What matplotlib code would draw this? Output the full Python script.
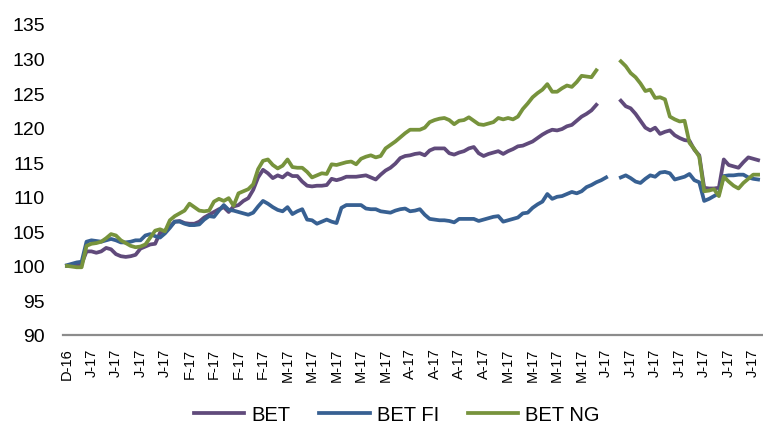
import numpy as np
import matplotlib.pyplot as plt

plt.rcParams['font.family'] = ['Liberation Sans', 'DejaVu Sans']

# --- Dades (valors diaris llegits del gràfic, NaN = buit) ---
bet = [100.0, 100.1, 100.2, 100.3, 102.1, 102.1, 101.9, 102.1, 102.6, 102.4,
       101.7, 101.4, 101.3, 101.4, 101.6, 102.5, 102.8, 103.1, 103.2, 104.8,
       105.1, 105.7, 106.4, 106.5, 106.2, 106.1, 106.1, 106.4, 107.0, 107.4,
       107.8, 108.2, 108.5, 107.8, 108.6, 108.8, 109.4, 109.8, 111.0, 112.8,
       113.9, 113.4, 112.7, 113.1, 112.8, 113.4, 113.0, 113.0, 112.2, 111.6,
       111.5, 111.6, 111.6, 111.7, 112.6, 112.4, 112.6, 112.9, 112.9, 112.9,
       113.0, 113.1, 112.8, 112.5, 113.2, 113.8, 114.2, 114.8, 115.6, 115.9,
       116.0, 116.2, 116.3, 116.0, 116.7, 117.0, 117.0, 117.0, 116.3, 116.1,
       116.4, 116.6, 117.0, 117.2, 116.3, 115.9, 116.2, 116.4, 116.6, 116.2,
       116.6, 116.9, 117.3, 117.4, 117.7, 118.0, 118.5, 119.0, 119.4, 119.7,
       119.6, 119.8, 120.2, 120.4, 121.0, 121.6, 122.0, 122.5, 123.3, np.nan,
       np.nan, np.nan, np.nan, 123.9, 123.1, 122.8, 122.0, 121.0, 120.0, 119.6,
       120.0, 119.1, 119.4, 119.6, 118.9, 118.5, 118.2, 118.1, 116.8, 116.0,
       111.3, 111.2, 111.2, 111.3, 115.4, 114.6, 114.4, 114.2, 115.0, 115.7,
       115.5, 115.3]

bet_fi = [100.1, 100.3, 100.5, 100.6, 103.5, 103.7, 103.6, 103.5, 103.7, 103.9,
          103.7, 103.4, 103.4, 103.5, 103.7, 103.7, 104.4, 104.6, 104.3, 104.1,
          104.7, 105.5, 106.4, 106.4, 106.1, 105.9, 105.9, 106.0, 106.7, 107.2,
          107.1, 108.0, 108.8, 108.1, 108.0, 107.8, 107.6, 107.4, 107.7, 108.6,
          109.4, 109.0, 108.5, 108.1, 107.9, 108.5, 107.5, 107.9, 108.2, 106.7,
          106.6, 106.1, 106.4, 106.7, 106.4, 106.2, 108.4, 108.8, 108.8, 108.8,
          108.8, 108.3, 108.2, 108.2, 107.9, 107.8, 107.7, 108.0, 108.2, 108.3,
          107.9, 108.0, 108.2, 107.4, 106.8, 106.7, 106.6, 106.6, 106.5, 106.3,
          106.8, 106.8, 106.8, 106.8, 106.5, 106.7, 106.9, 107.1, 107.2, 106.4,
          106.6, 106.8, 107.0, 107.6, 107.7, 108.4, 108.9, 109.3, 110.4, 109.7,
          110.0, 110.1, 110.4, 110.7, 110.5, 110.8, 111.4, 111.7, 112.1, 112.4,
          112.8, np.nan, np.nan, 112.8, 113.1, 112.7, 112.2, 112.0, 112.6, 113.1,
          112.9, 113.5, 113.6, 113.4, 112.5, 112.7, 112.9, 113.3, 112.4, 112.1,
          109.4, 109.7, 110.1, 110.5, 113.0, 113.1, 113.1, 113.2, 113.2, 112.8,
          112.6, 112.5]

bet_ng = [100.0, 99.9, 99.8, 99.8, 102.9, 103.2, 103.3, 103.5, 104.0, 104.6,
          104.4, 103.7, 103.3, 102.9, 102.7, 102.8, 103.1, 104.1, 105.1, 105.3,
          105.0, 106.6, 107.2, 107.6, 108.0, 109.0, 108.5, 108.0, 107.9, 108.0,
          109.3, 109.7, 109.4, 109.8, 108.7, 110.5, 110.8, 111.1, 111.8, 114.0,
          115.2, 115.4, 114.6, 114.1, 114.5, 115.4, 114.3, 114.2, 114.2, 113.6,
          112.8, 113.1, 113.4, 113.3, 114.7, 114.6, 114.8, 115.0, 115.1, 114.7,
          115.5, 115.8, 116.0, 115.7, 115.9, 117.0, 117.5, 118.0, 118.6, 119.2,
          119.7, 119.7, 119.7, 120.0, 120.8, 121.1, 121.3, 121.4, 121.1, 120.5,
          121.0, 121.1, 121.5, 121.0, 120.5, 120.4, 120.6, 120.8, 121.4, 121.2,
          121.4, 121.2, 121.6, 122.7, 123.5, 124.4, 125.0, 125.5, 126.3, 125.2,
          125.2, 125.7, 126.1, 125.9, 126.6, 127.5, 127.4, 127.3, 128.3, np.nan,
          np.nan, np.nan, np.nan, 129.6, 128.9, 127.9, 127.3, 126.4, 125.3, 125.5,
          124.3, 124.4, 124.1, 121.6, 121.2, 120.9, 121.0, 117.8, 116.9, 115.8,
          110.8, 110.9, 111.1, 110.1, 112.9, 112.2, 111.6, 111.2, 112.0, 112.6,
          113.2, 113.2]

# etiquetes setmanals de l'eix X
labels = (["D-16"] + ["J-17"] * 4 + ["F-17"] * 4 + ["M-17"] * 5 + ["A-17"] * 4
          + ["M-17"] * 4 + ["J-17"] * 7)

x = np.arange(len(bet))

fig = plt.figure(figsize=(7.63, 4.27), dpi=100)
ax = fig.add_axes([63 / 763, 91 / 427, 700 / 763, 311 / 427])

ax.plot(x, bet, color="#604a7b", lw=2.7, label="BET")
ax.plot(x, bet_fi, color="#376092", lw=2.7, label="BET FI")
ax.plot(x, bet_ng, color="#77933c", lw=2.7, label="BET NG")

ax.set_ylim(90, 135)
ax.set_yticks(range(90, 136, 5))
ax.set_xlim(-0.8, 142)
ax.set_xticks(np.arange(0, 5 * len(labels), 5))
ax.set_xticklabels(labels, rotation=90, fontsize=10.5)

for s in ["top", "right", "left"]:
    ax.spines[s].set_visible(False)
ax.spines["bottom"].set_color("#8c8c8c")
ax.spines["bottom"].set_linewidth(1.6)
ax.tick_params(axis="y", length=0, pad=13, labelsize=14)
ax.tick_params(axis="x", length=0, pad=9)

fig.legend(loc="center", bbox_to_anchor=(0.52, 0.027), ncol=3, frameon=False,
           fontsize=14.5, handlelength=2.5, handletextpad=0.35,
           columnspacing=1.45)

fig.savefig("out.png", dpi=100)
